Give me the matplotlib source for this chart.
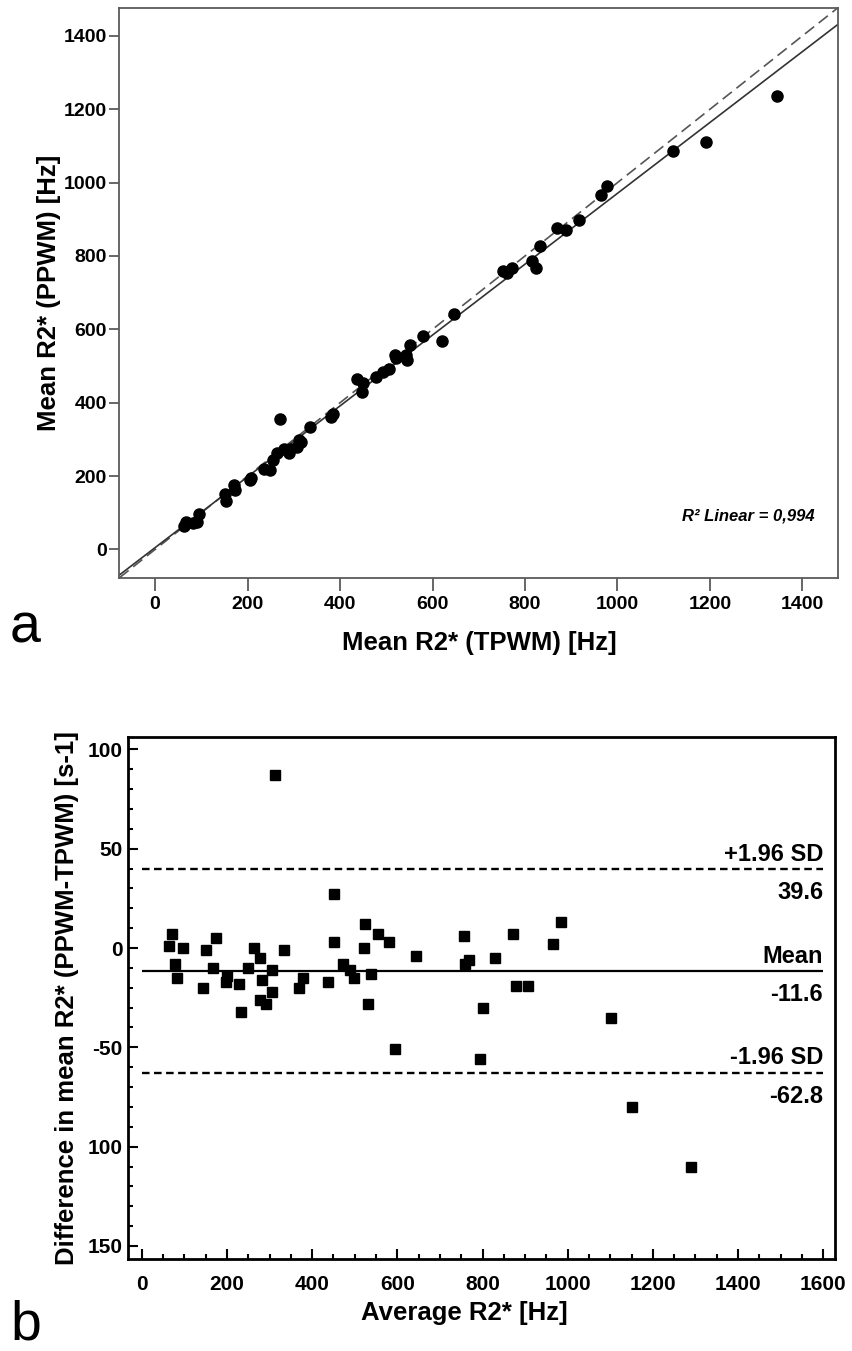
import numpy as np
import matplotlib
matplotlib.use("Agg")
import matplotlib.pyplot as plt
from matplotlib.ticker import MultipleLocator, FixedLocator, FixedFormatter

# ---- data (Bland-Altman pairs) ----
avg_r2 = [313, 451, 984, 524, 71, 174, 555, 756, 872, 580, 451, 965, 64, 96,
          151, 263, 334, 522, 277, 644, 830, 769, 758, 77, 473, 167, 488, 249,
          305, 537, 201, 83, 378, 499, 283, 197, 438, 143, 227, 370, 879, 907,
          277, 305, 292, 531, 232, 801, 1103, 594, 795, 1152, 1290]
diff_r2 = [87, 27, 13, 12, 7, 5, 7, 6, 7, 3, 3, 2, 1, 0,
           -1, 0, -1, 0, -5, -4, -5, -6, -8, -8, -8, -10, -11, -10,
           -11, -13, -14, -15, -15, -15, -16, -17, -17, -20, -18, -20, -19, -19,
           -26, -22, -28, -28, -32, -30, -35, -51, -56, -80, -110]

mean_diff = -11.6
upper_loa = 39.6
lower_loa = -62.8
r2_text = "R\u00b2 Linear = 0,994"

a_ticks = [0, 200, 400, 600, 800, 1000, 1200, 1400]
b_xticks = [0, 200, 400, 600, 800, 1000, 1200, 1400, 1600]
b_yticks = [-150, -100, -50, 0, 50, 100]
b_yticklabels = ["150", "100", "-50", "0", "50", "100"]

# derived paired measurements
avg = np.array(avg_r2, float)
dif = np.array(diff_r2, float)
tpwm = avg - dif / 2.0
ppwm = avg + dif / 2.0

plt.rcParams["font.family"] = ["Liberation Sans", "DejaVu Sans"]
plt.rcParams["font.weight"] = "bold"

W, H = 853, 1351
fig = plt.figure(figsize=(W / 100, H / 100), dpi=100)
fig.patch.set_facecolor("white")

def ax_rect(l, r, t, b):
    return [l / W, 1 - b / H, (r - l) / W, (b - t) / H]

# ---------------- panel a ----------------
axa = fig.add_axes(ax_rect(119.5, 838.5, 8, 577.7))
grey = "#5a5a5a"
axa.plot(tpwm, ppwm, "o", color="black", ms=8, mec="black", zorder=3)
slope, intercept = np.polyfit(tpwm, ppwm, 1)
axa.axline((0, 0), slope=1, color="#555555", lw=1.2, ls=(0, (7, 3.5)), zorder=2)
axa.axline((0, intercept), slope=slope, color="#333333", lw=1.2, zorder=2)
axa.set_xlim(-77, 1478)
axa.set_ylim(-77, 1476)
axa.xaxis.set_major_locator(FixedLocator(a_ticks))
axa.yaxis.set_major_locator(FixedLocator(a_ticks))
for s in axa.spines.values():
    s.set_color(grey)
    s.set_linewidth(1.3)
axa.tick_params(axis="x", direction="out", length=9, width=1.3, color=grey,
                labelsize=14, pad=4)
axa.tick_params(axis="y", direction="out", length=7, width=1.3, color=grey,
                labelsize=14, pad=2)
axa.set_xlabel("Mean R2* (TPWM) [Hz]", fontsize=18.5, fontweight="bold")
axa.set_ylabel("Mean R2* (PPWM) [Hz]", fontsize=18.5, fontweight="bold")
axa.xaxis.set_label_coords(0.5, -0.1146)
axa.xaxis.label.set_va("center")
axa.yaxis.set_label_coords(-0.098, 0.5)
axa.yaxis.label.set_va("center")
axa.text(0.967, 0.108, r2_text, transform=axa.transAxes, ha="right",
         va="center", fontsize=12, fontstyle="italic", fontweight="bold")

# ---------------- panel b ----------------
axb = fig.add_axes(ax_rect(128.3, 835, 736.7, 1259.3))
axb.plot(avg, dif, "s", color="black", ms=6.6, mec="black", zorder=3)
x0, x1 = b_xticks[0], b_xticks[-1]
axb.hlines(upper_loa, x0, x1, colors="black", lw=1.7, linestyles=(0, (3.2, 1.9)))
axb.hlines(lower_loa, x0, x1, colors="black", lw=1.7, linestyles=(0, (3.2, 1.9)))
axb.hlines(mean_diff, x0, x1, colors="black", lw=1.6)
axb.set_xlim(-32, 1628)
axb.set_ylim(-156.7, 106.4)
axb.xaxis.set_major_locator(FixedLocator(b_xticks))
axb.xaxis.set_minor_locator(MultipleLocator(50))
axb.yaxis.set_major_locator(FixedLocator(b_yticks))
axb.yaxis.set_major_formatter(FixedFormatter(b_yticklabels))
axb.yaxis.set_minor_locator(MultipleLocator(10))
for s in axb.spines.values():
    s.set_color("black")
    s.set_linewidth(2)
axb.tick_params(axis="both", which="major", direction="in", length=7, width=1.5,
                labelsize=15)
axb.tick_params(axis="both", which="minor", direction="in", length=3.5, width=1.5)
axb.tick_params(axis="x", which="major", pad=11)
axb.tick_params(axis="y", which="major", pad=4)
axb.set_xlabel("Average R2* [Hz]", fontsize=18.5, fontweight="bold")
axb.set_ylabel("Difference in mean R2* (PPWM-TPWM) [s-1]", fontsize=18.5,
               fontweight="bold")
axb.xaxis.set_label_coords(0.476, -0.102)
axb.xaxis.label.set_va("center")
axb.yaxis.set_label_coords(-0.087, 0.5)
axb.yaxis.label.set_va("center")

ann = [(upper_loa, "+1.96 SD", f"{upper_loa:.1f}"),
       (mean_diff, "Mean", f"{mean_diff:.1f}"),
       (lower_loa, "-1.96 SD", f"{lower_loa:.1f}")]
for yv, top, bot in ann:
    axb.annotate(top, (x1, yv), xytext=(0, 6), textcoords="offset points",
                 ha="right", va="baseline", fontsize=17, fontweight="bold")
    axb.annotate(bot, (x1, yv), xytext=(0, -21.5), textcoords="offset points",
                 ha="right", va="baseline", fontsize=17, fontweight="bold")

# panel letters
fig.text(10 / W, 1 - 643 / H, "a", fontsize=40, fontweight="normal",
         ha="left", va="baseline")
fig.text(10 / W, 1 - 1339 / H, "b", fontsize=40, fontweight="normal",
         ha="left", va="baseline")

fig.savefig("out.png", dpi=100, facecolor="white")
